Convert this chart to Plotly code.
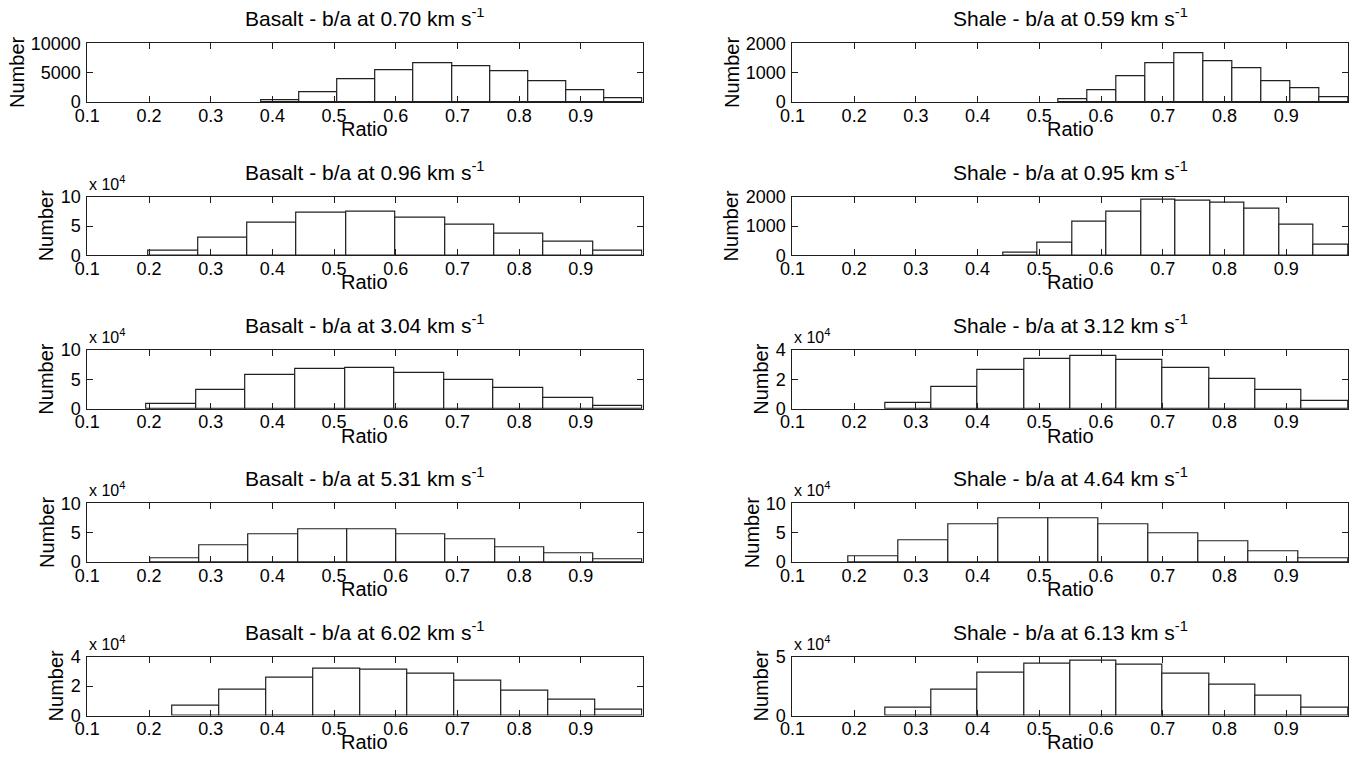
import plotly.graph_objects as go

# ---- data: 10-bin histograms of b/a ratio, upper bin edge = 1.0 ----
titles = [
    "Basalt - b/a at 0.70 km s<sup>-1</sup>", "Shale - b/a at 0.59 km s<sup>-1</sup>",
    "Basalt - b/a at 0.96 km s<sup>-1</sup>", "Shale - b/a at 0.95 km s<sup>-1</sup>",
    "Basalt - b/a at 3.04 km s<sup>-1</sup>", "Shale - b/a at 3.12 km s<sup>-1</sup>",
    "Basalt - b/a at 5.31 km s<sup>-1</sup>", "Shale - b/a at 4.64 km s<sup>-1</sup>",
    "Basalt - b/a at 6.02 km s<sup>-1</sup>", "Shale - b/a at 6.13 km s<sup>-1</sup>",
]
bin_start = [0.382, 0.531, 0.199, 0.441, 0.196, 0.250, 0.202, 0.190, 0.238, 0.250]
bin_end = 1.0

basalt_070 = [230, 1730, 3870, 5490, 6530, 6010, 5200, 3580, 2020, 580]
shale_059 = [92, 393, 879, 1329, 1676, 1387, 1156, 717, 486, 173]
basalt_096 = [7400, 30900, 56600, 72600, 74900, 64000, 53100, 37100, 22900, 7400]
shale_095 = [81, 428, 1156, 1480, 1884, 1861, 1792, 1595, 1052, 358]
basalt_304 = [7600, 32000, 57000, 68000, 69800, 61000, 49400, 34900, 18600, 5200]
shale_312 = [3700, 15100, 26700, 33700, 35800, 33300, 27900, 20200, 12800, 5100]
basalt_531 = [6400, 28900, 46800, 55500, 55500, 46800, 38700, 25400, 15000, 4600]
shale_464 = [9700, 37100, 64600, 74300, 74300, 64600, 48600, 34900, 18900, 5700]
basalt_602 = [6400, 17700, 25700, 31800, 30900, 28400, 23400, 17000, 10900, 3900]
shale_613 = [6300, 22200, 36400, 44000, 46900, 43200, 35500, 26100, 16800, 6500]

counts = [basalt_070, shale_059, basalt_096, shale_095, basalt_304,
          shale_312, basalt_531, shale_464, basalt_602, shale_613]

y_max = [10000, 2000, 100000, 2000, 100000, 40000, 100000, 100000, 40000, 50000]
y_tickvals = [[0, 5000, 10000], [0, 1000, 2000], [0, 50000, 100000], [0, 1000, 2000],
              [0, 50000, 100000], [0, 20000, 40000], [0, 50000, 100000],
              [0, 50000, 100000], [0, 20000, 40000], [0, 50000]]
y_ticktext = [["0", "5000", "10000"], ["0", "1000", "2000"], ["0", "5", "10"],
              ["0", "1000", "2000"], ["0", "5", "10"], ["0", "2", "4"],
              ["0", "5", "10"], ["0", "5", "10"], ["0", "2", "4"], ["0", "5"]]
exponent = [False, False, True, False, True, True, True, True, True, True]

x_ticks = [0.1, 0.2, 0.3, 0.4, 0.5, 0.6, 0.7, 0.8, 0.9]
x_ticktext = ["0.1", "0.2", "0.3", "0.4", "0.5", "0.6", "0.7", "0.8", "0.9"]

# ---- layout geometry (pixels in the 1359x763 window) ----
PAGE_OFF = 8                      # default body margin of the html page
W, H = 1359 - PAGE_OFF, 763 - PAGE_OFF
col_x = [(87.3, 642.5), (792.4, 1348.0)]
row_top0, row_pitch, ax_h = 43.3, 153.35, 58.8
TICK_FS = 18
LABEL_FS = 20
TITLE_FS = 21
DIGIT_W = 0.556 * TICK_FS

FONT = "Liberation Sans, Arial, sans-serif"
AX_COL = "#1e1e1e"
fig = go.Figure()
layout = dict(width=W, height=H, margin=dict(l=0, r=0, t=0, b=0),
              paper_bgcolor="white", plot_bgcolor="white", showlegend=False,
              font=dict(family=FONT, size=TICK_FS, color="black"), bargap=0)
annotations = []


def px_x(v):
    return (v - PAGE_OFF) / W


def px_y(v):
    return 1 - (v - PAGE_OFF) / H


for k in range(10):
    r, c = divmod(k, 2)
    x0, x1 = col_x[c]
    top = row_top0 + r * row_pitch
    bot = top + ax_h
    xa = "xaxis" if k == 0 else f"xaxis{k+1}"
    ya = "yaxis" if k == 0 else f"yaxis{k+1}"
    xr = "x" if k == 0 else f"x{k+1}"
    yr = "y" if k == 0 else f"y{k+1}"

    w = (bin_end - bin_start[k]) / 10
    centers = [bin_start[k] + (i + 0.5) * w for i in range(10)]
    fig.add_trace(go.Bar(x=centers, y=counts[k], width=[w] * 10, xaxis=xr, yaxis=yr,
                         marker=dict(color="white", line=dict(color="#202020", width=1.2)),
                         hoverinfo="x+y"))

    layout[xa] = dict(domain=[px_x(x0), px_x(x1)], anchor=yr, range=[0.1, 0.9999],
                      tickvals=x_ticks, ticktext=x_ticktext, ticks="inside", ticklen=6,
                      tickcolor=AX_COL, showline=True, linecolor=AX_COL, linewidth=1,
                      mirror="ticks", showgrid=False, zeroline=False,
                      tickfont=dict(size=TICK_FS), ticklabelstandoff=-3,
                      automargin=False)
    layout[ya] = dict(domain=[px_y(bot), px_y(top)], anchor=xr, range=[0, y_max[k]],
                      tickvals=y_tickvals[k], ticktext=y_ticktext[k], ticks="inside",
                      ticklen=6, tickcolor=AX_COL, showline=True, linecolor=AX_COL,
                      linewidth=1, mirror="ticks", showgrid=False, zeroline=False,
                      tickfont=dict(size=TICK_FS), ticklabelstandoff=2,
                      automargin=False)

    # subplot title
    annotations.append(dict(text=titles[k], xref="paper", yref="paper",
                            x=px_x((x0 + x1) / 2), y=px_y(top - 11),
                            xanchor="center", yanchor="bottom", showarrow=False,
                            font=dict(size=TITLE_FS)))
    # x label
    annotations.append(dict(text="Ratio", xref="paper", yref="paper",
                            x=px_x((x0 + x1) / 2), y=px_y(bot + 27),
                            xanchor="center", yanchor="middle", showarrow=False,
                            font=dict(size=LABEL_FS)))
    # y label, placed left of the widest tick label
    lab_w = max(len(t) for t in y_ticktext[k]) * DIGIT_W
    annotations.append(dict(text="Number", xref="paper", yref="paper",
                            x=px_x(x0 - 6 - lab_w - 15), y=px_y((top + bot) / 2),
                            xanchor="center", yanchor="middle", showarrow=False,
                            textangle=-90, font=dict(size=LABEL_FS)))
    if exponent[k]:
        annotations.append(dict(text="x 10<sup>4</sup>", xref="paper", yref="paper",
                                x=px_x(x0), y=px_y(top - 2), xanchor="left",
                                yanchor="bottom", showarrow=False,
                                font=dict(size=16)))

layout["annotations"] = annotations
fig.update_layout(**layout)
fig.write_html("out.html")
